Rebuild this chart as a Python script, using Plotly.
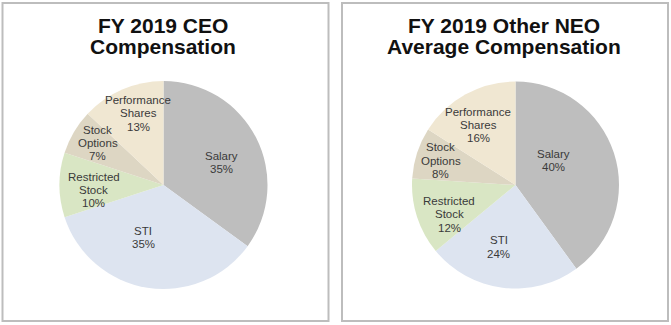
import math
import plotly.graph_objects as go

# Pay components, clockwise from 12 o'clock
components = ["Salary", "STI", "Restricted Stock", "Stock Options", "Performance Shares"]
ceo_pct = [35, 35, 10, 7, 13]
neo_pct = [40, 24, 12, 8, 16]
titles = [["FY 2019 CEO", "Compensation"], ["FY 2019 Other NEO", "Average Compensation"]]

slice_colors = ["#BEBEBE", "#DDE4F0", "#D9E6C4", "#DDD6C3", "#F0E7D2"]
# label placement: distance out (fraction of radius) and nudge from mid-angle (degrees)
label_radius = [
    [0.60, 0.54, 0.67, 0.75, 0.73],
    [0.44, 0.62, 0.70, 0.76, 0.68],
]
label_nudge = [
    [6, 12, -4, 2, 4],
    [-15, 8, -6, 0, -3],
]
W, H = 671, 325
FONT = "Liberation Sans, Arial"

fig = go.Figure()

# pie boxes in pixels: (left, right, top, bottom)
boxes = [(59.5, 267.5, 81, 289), (412, 619, 81, 289)]
title_cx = [163, 504]

for k, (vals, (l, r, t, b)) in enumerate(zip([ceo_pct, neo_pct], boxes)):
    fig.add_trace(go.Pie(
        labels=components,
        values=vals,
        textinfo="none",
        sort=False,
        direction="clockwise",
        rotation=0,
        marker=dict(colors=slice_colors, line=dict(width=0)),
        domain=dict(x=[l / W, r / W], y=[1 - b / H, 1 - t / H]),
        showlegend=False,
        hoverinfo="label+percent",
    ))

    # slice labels, placed around each slice's mid-angle
    cx, cy = (l + r) / 2, (t + b) / 2
    rad = min(r - l, b - t) / 2
    total = sum(vals)
    start = 0.0
    for i, (name, v) in enumerate(zip(components, vals)):
        mid = (start + v / 2) / total * 2 * math.pi + math.radians(label_nudge[k][i])
        start += v
        px = cx + label_radius[k][i] * rad * math.sin(mid)
        py = cy - label_radius[k][i] * rad * math.cos(mid)
        lines = name.split(" ") + [f"{v}%"]
        n = len(lines)
        for j, ln in enumerate(lines):
            fig.add_annotation(
                text=ln, xref="paper", yref="paper",
                x=px / W, y=1 - py / H, xanchor="center", yanchor="middle",
                yshift=((n - 1) / 2 - j) * 13.3,
                showarrow=False,
                font=dict(family=FONT, size=11.5, color="#3A3A3A"),
            )

# Panel frames
for x0, x1 in [(2.5, 328.5), (342, 668)]:
    fig.add_shape(type="rect", xref="paper", yref="paper",
                  x0=x0 / W, x1=x1 / W, y0=1 - 321 / H, y1=1 - 3 / H,
                  line=dict(color="#BDBDBD", width=2), fillcolor="rgba(0,0,0,0)")

# Panel titles, one annotation per line for tight leading
for lines, cx in zip(titles, title_cx):
    for j, ln in enumerate(lines):
        fig.add_annotation(text=f"<b>{ln}</b>", xref="paper", yref="paper",
                           x=cx / W, y=1 - (26 + 21 * j) / H,
                           xanchor="center", yanchor="middle",
                           showarrow=False,
                           font=dict(family=FONT, size=21, color="#111111"))

fig.update_layout(
    width=W, height=H,
    margin=dict(l=0, r=0, t=0, b=0),
    paper_bgcolor="white",
    plot_bgcolor="white",
)

fig.write_html("out.html")
